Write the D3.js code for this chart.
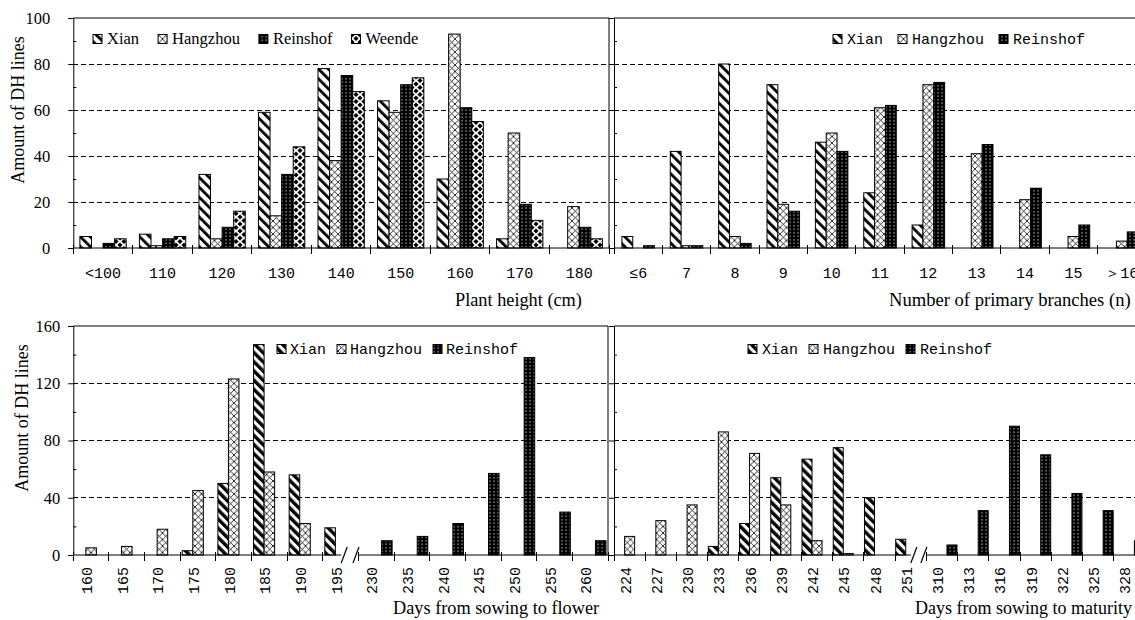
<!DOCTYPE html>
<html>
<head>
<meta charset="utf-8">
<script src="https://cdn.jsdelivr.net/npm/d3@7"></script>
<style>
body{margin:0;background:#fff}
svg{display:block}
</style>
</head>
<body>
<div id="content"></div>
<script>
// plant height (cm)
const heightCats = ["<100","110","120","130","140","150","160","170","180"];
const heightXian = [5,6,32,59,78,64,30,4,0];
const heightHangzhou = [0,1,4,14,38,59,93,50,18];
const heightReinshof = [2,4,9,32,75,71,61,19,9];
const heightWeende = [4,5,16,44,68,74,55,12,4];

// number of primary branches
const branchCats = ["≤6","7","8","9","10","11","12","13","14","15","＞16"];
const branchXian = [5,42,80,71,46,24,10,0,0,0,0];
const branchHangzhou = [0,1,5,19,50,61,71,41,21,5,3];
const branchReinshof = [1,1,2,16,42,62,72,45,26,10,7];

// days from sowing to flower
const flowerCats = ["160","165","170","175","180","185","190","195","230","235","240","245","250","255","260"];
const flowerXian = [0,0,0,3,50,147,56,19,0,0,0,0,0,0,0];
const flowerHangzhou = [5,6,18,45,123,58,22,0,0,0,0,0,0,0,0];
const flowerReinshof = [0,0,0,0,0,0,0,0,10,13,22,57,138,30,10];

// days from sowing to maturity
const maturityCats = ["224","227","230","233","236","239","242","245","248","251","310","313","316","319","322","325","328"];
const maturityXian = [0,0,0,6,22,54,67,75,40,11,0,0,0,0,0,0,0];
const maturityHangzhou = [13,24,35,86,71,35,10,1,0,0,0,0,0,0,0,0,0];
const maturityReinshof = [0,0,0,0,0,0,0,0,0,0,7,31,90,70,43,31,10];

const SERIF = "'Liberation Serif','Times New Roman',serif";
const MONO = "'Liberation Mono','DejaVu Sans Mono',monospace";
const W = 1135, H = 620;

const svg = d3.select("#content").append("svg")
    .attr("width", W)
    .attr("height", H);

const defs = svg.append("defs");

function stripes(id, period, thick){
    let p = defs.append("pattern").attr("id", id)
        .attr("patternUnits","userSpaceOnUse")
        .attr("width", period).attr("height", period)
        .attr("patternTransform","rotate(-45)");
    p.append("rect").attr("width", period).attr("height", period).attr("fill","#fff");
    p.append("rect").attr("width", thick).attr("height", period).attr("fill","#000");
}
stripes("xianTop", 7, 2.8);
stripes("xianBot", 6.5, 3.4);

// Hangzhou: light diagonal lattice
let hz = defs.append("pattern").attr("id","hangzhou")
    .attr("patternUnits","userSpaceOnUse").attr("width",6.5).attr("height",6.5);
hz.append("rect").attr("width",6.5).attr("height",6.5).attr("fill","#fff");
hz.append("path").attr("d","M0,0L6.5,6.5M6.5,0L0,6.5")
    .attr("stroke","#000").attr("stroke-width",0.8);

// Reinshof: black with white dots
let rs = defs.append("pattern").attr("id","reinshof")
    .attr("patternUnits","userSpaceOnUse").attr("width",4).attr("height",3.5);
rs.append("rect").attr("width",4).attr("height",3.5).attr("fill","#000");
rs.append("rect").attr("x",1.5).attr("y",1.2).attr("width",1.1).attr("height",1.1).attr("fill","#fff");

// Weende: white with black diamonds
let wd = defs.append("pattern").attr("id","weende")
    .attr("patternUnits","userSpaceOnUse").attr("width",8).attr("height",7);
wd.append("rect").attr("width",8).attr("height",7).attr("fill","#fff");
wd.append("path").attr("fill","#000")
    .attr("d","M4,1L6.6,3.5L4,6L1.4,3.5Z M0,-2.5L2.6,0L0,2.5L-2.6,0Z M8,-2.5L10.6,0L8,2.5L5.4,0Z M0,4.5L2.6,7L0,9.5L-2.6,7Z M8,4.5L10.6,7L8,9.5L5.4,7Z");

function drawPanel(o){
    let g = svg.append("g");
    let x = d3.scaleBand().domain(o.cats).range([o.x0, o.x1]).paddingInner(0).paddingOuter(0);
    let inner = d3.scaleBand().domain(o.series.map(s=>s.name))
        .range([0, x.bandwidth()]).paddingInner(0).paddingOuter(o.pad);
    let y = d3.scaleLinear().domain([0, o.yMax]).range([o.yBottom, o.yTop]);
    let right = Math.min(o.x1, W);

    // dashed gridlines
    g.selectAll(".grid").data(o.grid).enter().append("line")
        .attr("x1", o.x0).attr("x2", right)
        .attr("y1", d=>y(d)).attr("y2", d=>y(d))
        .attr("stroke","#000").attr("stroke-dasharray","5,3")
        .attr("shape-rendering","crispEdges");

    // frame
    g.append("line").attr("x1", o.x0).attr("x2", right)
        .attr("y1", o.yTop).attr("y2", o.yTop).attr("stroke","#000");
    if (o.x1 <= W){
        g.append("line").attr("x1", o.x1).attr("x2", o.x1)
            .attr("y1", o.yTop).attr("y2", o.yBottom).attr("stroke","#000");
    }

    // bars
    let bars = [];
    o.series.forEach(s=>s.values.forEach((v,i)=>{
        if (v > 0) bars.push({cat:o.cats[i], name:s.name, v:v, fill:s.fill});
    }));
    g.selectAll(".bar").data(bars).enter().append("rect")
        .attr("x", d=>x(d.cat)+inner(d.name))
        .attr("y", d=>y(d.v))
        .attr("width", inner.bandwidth())
        .attr("height", d=>y(0)-y(d.v))
        .attr("fill", d=>`url(#${d.fill})`)
        .attr("stroke","#000").attr("stroke-width",1);

    // y axis, major ticks outward
    let ya = g.append("g").attr("transform",`translate(${o.x0},0)`)
        .call(d3.axisLeft(y).tickValues(o.major).tickSize(5)
            .tickPadding(o.labelPad).tickFormat(o.yLabels ? d3.format("d") : ""));
    ya.selectAll("text").style("font-family", SERIF).style("font-size","16.5px").attr("fill","#000");
    ya.select(".domain").attr("stroke","#000");
    // minor ticks inward
    g.append("g").attr("transform",`translate(${o.x0},0)`)
        .call(d3.axisLeft(y).tickValues(o.minor).tickSize(-3).tickFormat(""))
        .call(a=>a.select(".domain").remove());

    // x axis line, with optional break
    let base = o.yBottom;
    if (o.breakAt != null){
        let bEnd = x(o.cats[o.breakAt]) + x.bandwidth();
        let s1 = bEnd - 0.4*x.step(), s2 = bEnd - 2.5;
        g.append("line").attr("x1", o.x0).attr("x2", s1-3).attr("y1", base).attr("y2", base).attr("stroke","#000");
        g.append("line").attr("x1", bEnd).attr("x2", right).attr("y1", base).attr("y2", base).attr("stroke","#000");
        [s1, s2].forEach(c=>{
            g.append("line").attr("x1", c-3).attr("y1", base+8).attr("x2", c+3).attr("y2", base-8)
                .attr("stroke","#000").attr("stroke-width",1.2);
        });
    } else {
        g.append("line").attr("x1", o.x0).attr("x2", right).attr("y1", base).attr("y2", base).attr("stroke","#000");
    }
    let edges = o.cats.map(c=>x(c)).concat([o.x1]);
    g.selectAll(".xt").data(edges).enter().append("line")
        .attr("x1", d=>d).attr("x2", d=>d)
        .attr("y1", base-3).attr("y2", base+6).attr("stroke","#000")
        .attr("shape-rendering","crispEdges");

    // category labels
    let lab = g.selectAll(".xl").data(o.cats).enter().append("text")
        .text(d=>d)
        .style("font-family", MONO).style("font-size","15px").attr("fill","#000");
    if (o.rotate){
        lab.attr("text-anchor","end")
           .attr("transform", d=>`translate(${x(d)+x.bandwidth()/2+1},${base+12}) rotate(-90)`);
    } else {
        lab.attr("text-anchor","middle")
           .attr("x", d=>x(d)+x.bandwidth()/2).attr("y", base+30);
    }

    // axis title
    g.append("text").text(o.xTitle)
        .attr("x", o.titleX).attr("y", o.titleY)
        .style("font-family", SERIF).style("font-size", o.titleSize).attr("fill","#000");

    if (o.yTitle){
        g.append("text").text(o.yTitle)
            .attr("text-anchor","middle")
            .attr("transform",`translate(${o.yTitleX},${o.yTitleY}) rotate(-90)`)
            .style("font-family", SERIF).style("font-size","18px").attr("fill","#000");
    }

    // legend
    let lx = o.legend.x;
    o.series.forEach(s=>{
        g.append("rect").attr("x", lx).attr("y", o.legend.y-4.5)
            .attr("width",9).attr("height",9)
            .attr("fill",`url(#${s.fill})`).attr("stroke","#000");
        let t = g.append("text").text(s.name)
            .attr("x", lx + o.legend.off).attr("y", o.legend.y+5)
            .style("font-family", o.legend.font).style("font-size", o.legend.size).attr("fill","#000");
        lx += o.legend.off + t.node().getComputedTextLength() + o.legend.gap;
    });
}

drawPanel({
    cats: heightCats,
    series: [
        {name:"Xian", values:heightXian, fill:"xianTop"},
        {name:"Hangzhou", values:heightHangzhou, fill:"hangzhou"},
        {name:"Reinshof", values:heightReinshof, fill:"reinshof"},
        {name:"Weende", values:heightWeende, fill:"weende"}
    ],
    x0:73.3, x1:609, yTop:18, yBottom:248, yMax:100,
    major:[0,20,40,60,80,100], minor:[10,30,50,70,90], grid:[20,40,60,80],
    yLabels:true, labelPad:18, pad:0.57, rotate:false,
    xTitle:"Plant height (cm)", titleX:455, titleY:306, titleSize:"18.3px",
    yTitle:"Amount of DH lines", yTitleX:24, yTitleY:110,
    legend:{x:93, y:39, off:14, gap:19, font:SERIF, size:"16.5px"}
});

drawPanel({
    cats: branchCats,
    series: [
        {name:"Xian", values:branchXian, fill:"xianTop"},
        {name:"Hangzhou", values:branchHangzhou, fill:"hangzhou"},
        {name:"Reinshof", values:branchReinshof, fill:"reinshof"}
    ],
    x0:614, x1:1146, yTop:18, yBottom:248, yMax:100,
    major:[0,20,40,60,80,100], minor:[10,30,50,70,90], grid:[20,40,60,80],
    yLabels:false, labelPad:18, pad:0.73, rotate:false,
    xTitle:"Number of primary branches (n)", titleX:889, titleY:306, titleSize:"18.6px",
    legend:{x:833, y:39, off:14, gap:15, font:MONO, size:"15px"}
});

drawPanel({
    cats: flowerCats,
    series: [
        {name:"Xian", values:flowerXian, fill:"xianBot"},
        {name:"Hangzhou", values:flowerHangzhou, fill:"hangzhou"},
        {name:"Reinshof", values:flowerReinshof, fill:"reinshof"}
    ],
    x0:73.3, x1:608, yTop:326, yBottom:555, yMax:160,
    major:[0,40,80,120,160], minor:[20,60,100,140], grid:[40,80,120],
    yLabels:true, labelPad:8, pad:0.19, rotate:true, breakAt:7,
    xTitle:"Days from sowing to flower", titleX:393, titleY:614, titleSize:"18.3px",
    yTitle:"Amount of DH lines", yTitleX:28, yTitleY:418,
    legend:{x:277, y:349, off:13, gap:11, font:MONO, size:"15px"}
});

drawPanel({
    cats: maturityCats,
    series: [
        {name:"Xian", values:maturityXian, fill:"xianBot"},
        {name:"Hangzhou", values:maturityHangzhou, fill:"hangzhou"},
        {name:"Reinshof", values:maturityReinshof, fill:"reinshof"}
    ],
    x0:614, x1:1145, yTop:326, yBottom:555, yMax:160,
    major:[0,40,80,120,160], minor:[20,60,100,140], grid:[40,80,120],
    yLabels:false, labelPad:8, pad:0.06, rotate:true, breakAt:9,
    xTitle:"Days from sowing to maturity", titleX:915, titleY:614, titleSize:"18px",
    legend:{x:748, y:349, off:14, gap:11, font:MONO, size:"15px"}
});
</script>
</body>
</html>
